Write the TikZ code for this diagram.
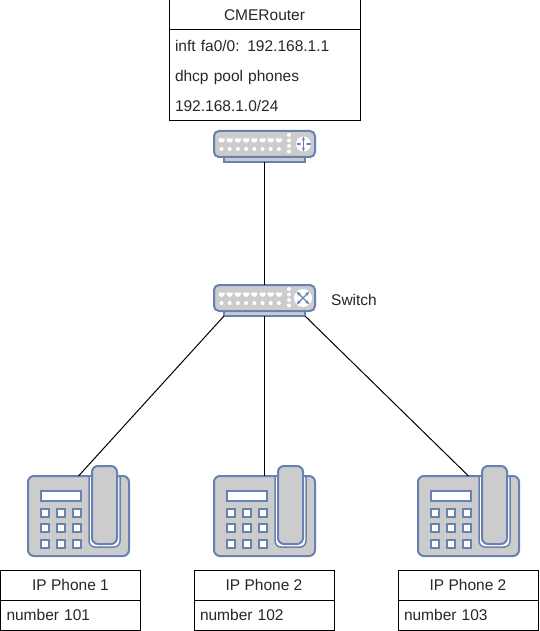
\documentclass[tikz,border=0pt]{standalone}
\usepackage{fontspec}
\setmainfont{Liberation Sans}
\usetikzlibrary{calc, positioning}
\usetikzlibrary{arrows.meta}
\definecolor{devblue}{HTML}{6881B3}
\definecolor{devgrey}{HTML}{CCCCCC}
\tikzset{
    tablecell/.style={draw=black, line width=1pt, rectangle, inner sep=0pt, outer sep=0pt,
        minimum height=30pt, font=\fontsize{15.5}{30}\selectfont, text=black!85},
    tablehead/.style={tablecell, align=center},
    tablerow/.style={tablecell, align=left},
    devpart/.style={draw=devblue, fill=devgrey, line width=2pt, rectangle, inner sep=0pt, outer sep=0pt},
    keybox/.style={draw=devblue, fill=white, line width=2pt},
    boxports/.pic={
        % ports and status dots of the router and the switch
        \foreach \px in {0,...,7} {
            \fill[white] ({4.5+\px*8.2},7.5) -- ++(6,0) -- ++(0,2) -- ++(-1.5,2) -- ++(-3,0) -- ++(-1.5,-2) -- cycle;
            \fill[white] ({7.5+\px*8.2},18) circle (2);
        }
        \foreach \py in {4,9.5,15,20.5} \fill[white] (75,\py) circle (2);
    },
    routerbox/.pic={
        \node[devpart, anchor=north, minimum width=81pt, minimum height=6pt] (-base) at (50.5,25) {};
        \node[devpart, rounded corners=5pt, anchor=north west, minimum width=101pt, minimum height=26pt] (-body) at (0,0) {};
        \pic {boxports};
        \fill[white] (89.5,13) circle (7.5);
        \draw[devblue, line width=1.2pt, {Stealth[length=4pt]}-{Stealth[length=4pt]}] (89.5,5.5) -- (89.5,20.5);
        \draw[devblue, line width=1.2pt, -{Stealth[length=3pt]}] (82.5,13) -- (87.5,13);
        \draw[devblue, line width=1.2pt, -{Stealth[length=3pt]}] (96.5,13) -- (91.5,13);
    },
    switchbox/.pic={
        \node[devpart, anchor=north, minimum width=81pt, minimum height=6pt] (-base) at (50.5,25) {};
        \node[devpart, rounded corners=5pt, anchor=north west, minimum width=101pt, minimum height=26pt] (-body) at (0,0) {};
        \pic {boxports};
        \fill[white] (89,13) circle (9);
        \draw[devblue, line width=1.4pt, {Stealth[length=4.5pt]}-{Stealth[length=4.5pt]}] (82.5,6.5) -- (95.5,19.5);
        \draw[devblue, line width=1.4pt, {Stealth[length=4.5pt]}-{Stealth[length=4.5pt]}] (95.5,6.5) -- (82.5,19.5);
    },
    phonebox/.pic={
        \node[devpart, rounded corners=6pt, anchor=north west, minimum width=101pt, minimum height=80pt] (-body) at (0,0) {};
        % screen and keys
        \draw[keybox] (12.5,14.5) rectangle (52.5,25);
        \foreach \kx in {0,1,2}
            \foreach \ky in {0,1,2}
                \draw[keybox] ({12.5+\kx*16},{32.5+\ky*15.8}) rectangle ++(8,8);
        % cradle and handset
        \fill[white, rounded corners=6pt] (61,-1) rectangle (92,71);
        \draw[devblue, line width=1.5pt, rounded corners=6pt] (61,0) -- (61,71) -- (92,71) -- (92,0);
        \draw[devpart, rounded corners=6pt] (64,-10) rectangle (89,68);
    },
}

\begin{document}
\begin{tikzpicture}[x=1pt, y=-1pt]
    \useasboundingbox (0,0) rectangle (539,631);

    % router table
    \node[tablehead, minimum width=191pt, anchor=north west] (routertitle) at (169,0) {CMERouter};
    \node[tablerow, minimum width=191pt, minimum height=91pt, text width=179pt, below=0pt of routertitle] (routerinfo)
        {inft fa0/0: 192.168.1.1\\dhcp pool phones\\192.168.1.0/24};

    % devices
    \pic (router) at (214,131) {routerbox};
    \pic (switch) at (214,285) {switchbox};
    \node[right=16pt of switch-body, yshift=-2pt, font=\fontsize{15.5}{18}\selectfont, text=black!85, inner sep=0pt] (switchlabel) {Switch};

    \pic (phoneA) at (28,476) {phonebox};
    \pic (phoneB) at (214,476) {phonebox};
    \pic (phoneC) at (418,476) {phonebox};

    % phone tables
    \node[tablehead, minimum width=140pt, anchor=north west] (titleA) at (0.5,570) {IP Phone 1};
    \node[tablerow, minimum width=140pt, text width=128pt, below=0pt of titleA] (numberA) {number 101};
    \node[tablehead, minimum width=140pt, anchor=north west] (titleB) at (194,570) {IP Phone 2};
    \node[tablerow, minimum width=140pt, text width=128pt, below=0pt of titleB] (numberB) {number 102};
    \node[tablehead, minimum width=140pt, anchor=north west] (titleC) at (398,570) {IP Phone 2};
    \node[tablerow, minimum width=140pt, text width=128pt, below=0pt of titleC] (numberC) {number 103};

    % links
    \draw[line width=1pt] (router-base.south) -- (switch-body.north);
    \draw[line width=1pt] (switch-base.south west) -- (phoneA-body.north);
    \draw[line width=1pt] (switch-base.south) -- (phoneB-body.north);
    \draw[line width=1pt] (switch-base.south east) -- (phoneC-body.north);
\end{tikzpicture}
\end{document}
